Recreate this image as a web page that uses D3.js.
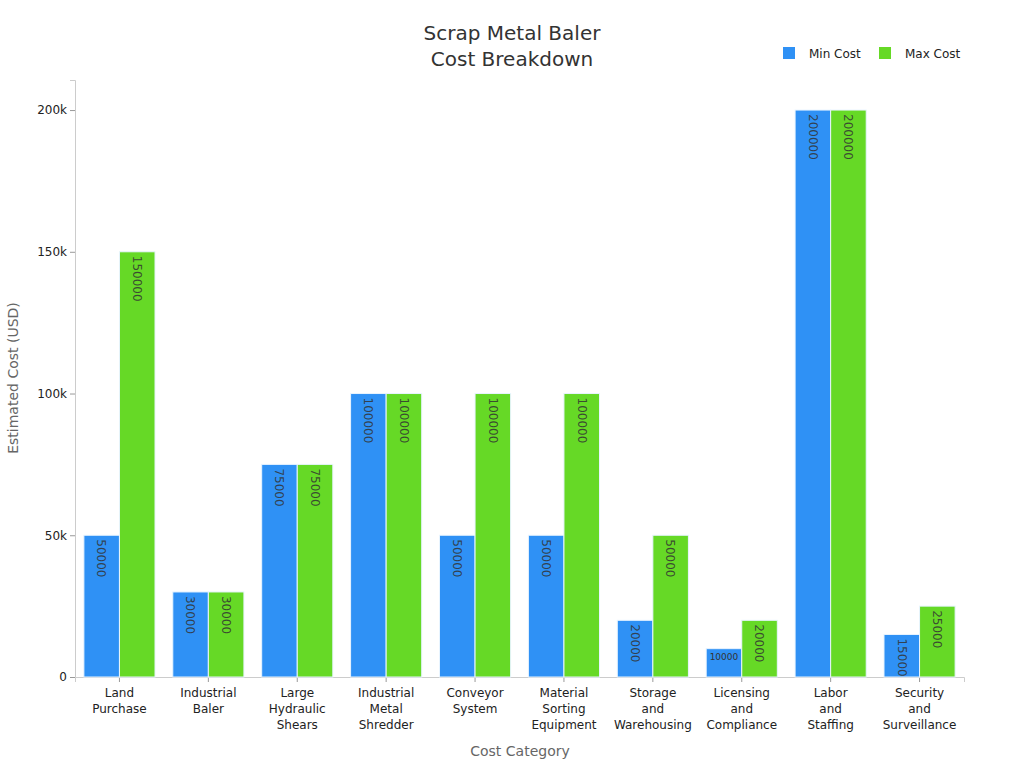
<!DOCTYPE html>
<html><head><meta charset="utf-8">
<script src="https://cdn.jsdelivr.net/npm/d3@7"></script>
<style>body{margin:0;background:#fff;} text{font-family:"DejaVu Sans",sans-serif;}</style>
</head><body>
<svg id="c" width="1024" height="768"></svg>
<script>
const categories = ["Land Purchase","Industrial Baler","Large Hydraulic Shears","Industrial Metal Shredder","Conveyor System","Material Sorting Equipment","Storage and Warehousing","Licensing and Compliance","Labor and Staffing","Security and Surveillance"];
const categoryLines = [["Land","Purchase"],["Industrial","Baler"],["Large","Hydraulic","Shears"],["Industrial","Metal","Shredder"],["Conveyor","System"],["Material","Sorting","Equipment"],["Storage","and","Warehousing"],["Licensing","and","Compliance"],["Labor","and","Staffing"],["Security","and","Surveillance"]];
const minCost = [50000,30000,75000,100000,50000,50000,20000,10000,200000,15000];
const maxCost = [150000,30000,75000,100000,100000,100000,50000,20000,200000,25000];
const seriesNames = ["Min Cost","Max Cost"];
const colors = ["#2f91f5","#66d926"];
const yTicks = [0,50000,100000,150000,200000];

const svg = d3.select("#c");
const L=75, R=964, T=80, B=677;
const x = d3.scaleBand().domain(categories).range([L,R]).paddingInner(0.2).paddingOuter(0.1);
const x1 = d3.scaleBand().domain(seriesNames).range([0,x.bandwidth()]).padding(0);
const y = d3.scaleLinear().domain([0,210600]).range([B,T]);

// axes
const yAxis = svg.append("g").attr("transform",`translate(${L},0)`)
  .call(d3.axisLeft(y).tickValues(yTicks).tickSize(5).tickFormat(d=> d===0?"0":(d/1000)+"k"));
yAxis.select(".domain").attr("stroke","#ccc");
yAxis.selectAll(".tick line").attr("stroke","#999");
yAxis.selectAll(".tick text").attr("font-size",12).attr("fill","#222").attr("font-family","DejaVu Sans");

const xAxis = svg.append("g").attr("transform",`translate(0,${B})`)
  .call(d3.axisBottom(x).tickSize(5).tickFormat(""));
xAxis.select(".domain").attr("stroke","#ccc");
xAxis.selectAll(".tick line").attr("stroke","#999");
xAxis.selectAll(".tick").each(function(d,i){
  const t = d3.select(this).append("text").attr("fill","#222").attr("font-size",12).attr("text-anchor","middle").attr("font-family","DejaVu Sans");
  categoryLines[i].forEach((ln,j)=>t.append("tspan").attr("x",0).attr("y",20+j*16).text(ln));
});

// bars
const data = categories.map((c,i)=>({c, vals:[minCost[i],maxCost[i]]}));
const g = svg.append("g");
data.forEach(d=>{
  d.vals.forEach((v,k)=>{
    const bx = x(d.c)+x1(seriesNames[k]);
    const bw = x1.bandwidth();
    g.append("rect").attr("x",bx).attr("y",y(v)).attr("width",bw).attr("height",y(0)-y(v))
      .attr("fill",colors[k]).attr("stroke","#e8f4ff").attr("stroke-width",1);
    const h = y(0)-y(v);
    const txt = String(v);
    if (h > 35) {
      g.append("text").attr("transform",`translate(${bx+bw/2},${y(v)+4}) rotate(90)`)
        .attr("dy","0.35em").attr("font-size",12).attr("fill","#333").attr("fill-opacity",0.85).text(txt);
    } else {
      g.append("text").attr("x",bx+bw/2).attr("y",y(v)+8).attr("dy","0.35em").attr("text-anchor","middle")
        .attr("font-size",9).attr("fill","#333").text(txt);
    }
  });
});

// titles
svg.append("text").attr("x",512).attr("y",40).attr("text-anchor","middle").attr("font-size",20).attr("fill","#333").text("Scrap Metal Baler");
svg.append("text").attr("x",512).attr("y",66).attr("text-anchor","middle").attr("font-size",20).attr("fill","#333").text("Cost Breakdown");
svg.append("text").attr("x",520).attr("y",756).attr("text-anchor","middle").attr("font-size",14).attr("fill","#666").text("Cost Category");
svg.append("text").attr("transform","translate(18,378) rotate(-90)").attr("text-anchor","middle").attr("font-size",14).attr("fill","#666").text("Estimated Cost (USD)");

// legend
const lg = svg.append("g");
const legX = [783,879];
seriesNames.forEach((s,k)=>{
  lg.append("rect").attr("x",legX[k]).attr("y",47).attr("width",12).attr("height",12).attr("fill",colors[k]);
  lg.append("text").attr("x",legX[k]+26).attr("y",54).attr("dy","0.35em").attr("font-size",12).attr("fill","#222").text(s);
});
</script>
</body></html>
